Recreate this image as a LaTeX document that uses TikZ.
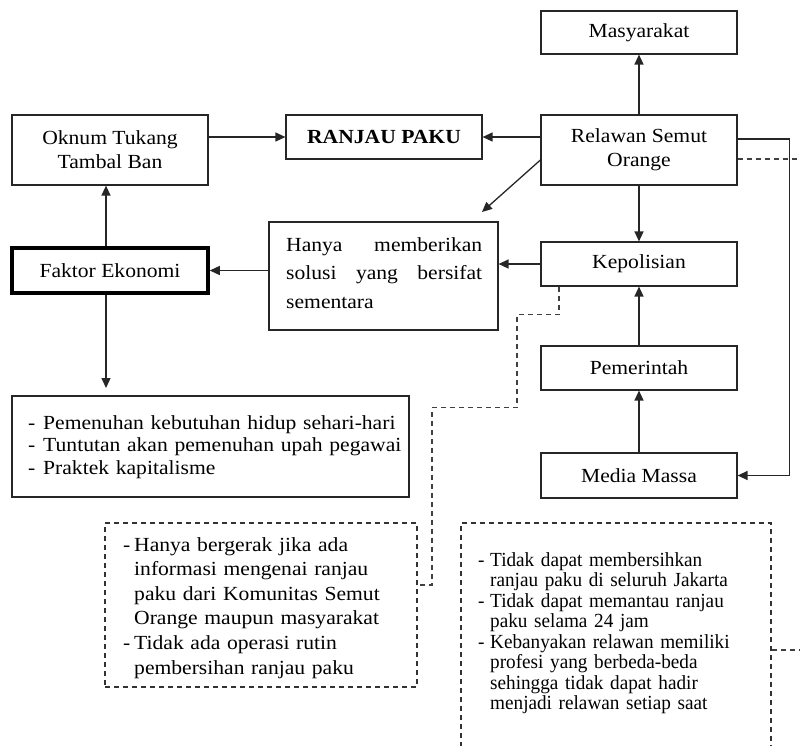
\documentclass[tikz,border=0pt]{standalone}
\usepackage{fontspec}
\setmainfont{Liberation Serif}[FakeStretch=1.08]
\newfontfamily\narrowserif{Liberation Serif}[FakeStretch=0.96]
\usetikzlibrary{arrows.meta}
\newcommand\litem[2]{\noindent\hangindent=#1\hangafter=1\makebox[#1][l]{-}#2\par}
\begin{document}
\begin{tikzpicture}[x=1pt,y=-1pt,
  box/.style={draw=black!85, line width=1.2pt, minimum width=196pt, inner sep=0pt, align=center, font=\fontsize{20}{24}\selectfont},
  txt/.style={inner sep=0pt, anchor=base west, font=\fontsize{20}{24}\selectfont},
  arr/.style={draw=black!85, line width=1.3pt, -{Triangle[length=10pt,width=9pt]}},
  dbox/.style={draw=black!80, line width=1.2pt, dash pattern=on 5pt off 4pt, inner sep=0pt},
  dline/.style={draw=black!75, line width=1.2pt, dash pattern=on 5pt off 4pt}]
\useasboundingbox (0,0) rectangle (800,745);
\clip (0,0) rectangle (800,745);
% boxes
\node[box, minimum height=43pt] (mas) at (639,32.5) {Masyarakat};
\node[box, minimum height=70pt] (rel) at (639,150) {Relawan Semut\\Orange};
\node[box, minimum height=44pt] (kep) at (639,264) {Kepolisian};
\node[box, minimum height=44pt] (pem) at (639,368) {Pemerintah};
\node[box, minimum height=45pt] (med) at (639,475.5) {Media Massa};
\node[box, minimum height=44pt] (ran) at (384,137) {\textbf{RANJAU PAKU}};
\node[box, minimum height=70pt] (okn) at (110,150) {Oknum Tukang\\Tambal Ban};
\node[box, draw=black, line width=3.5pt, minimum height=45pt] (fak) at (110,270.5) {Faktor Ekonomi};
\node[box, minimum width=229pt, minimum height=108pt] (han) at (383.5,276) {};
\node[txt, text width=196pt, font=\fontsize{20}{28.5}\selectfont] (hant) at (286,251)
  {Hanya \hfill memberikan\\ solusi \hfill yang \hfill bersifat\\ sementara};
\node[box, minimum width=397pt, minimum height=101pt] (lst) at (210.5,446.5) {};
\node[txt, text width=375pt, font=\fontsize{20}{22.5}\selectfont] (lstt) at (28,429)
  {\litem{15pt}{Pemenuhan kebutuhan hidup sehari-hari}\litem{15pt}{Tuntutan akan pemenuhan upah pegawai}\litem{15pt}{Praktek kapitalisme}};
\node[dbox, minimum width=312pt, minimum height=164pt] (d1) at (261,605) {};
\node[txt, text width=290pt, font=\fontsize{20}{24.6}\selectfont] (d1t) at (123,551)
  {\litem{11pt}{Hanya bergerak jika ada\newline informasi mengenai ranjau\newline paku dari Komunitas Semut\newline Orange maupun masyarakat}\litem{11pt}{Tidak ada operasi rutin\newline pembersihan ranjau paku}};
\node[dbox, minimum width=310pt, minimum height=250pt] (d2) at (616,648) {};
\node[txt, text width=280pt, font=\narrowserif\fontsize{20}{20.5}\selectfont] (d2t) at (478,566)
  {\litem{12pt}{Tidak dapat membersihkan\newline ranjau paku di seluruh Jakarta}\litem{12pt}{Tidak dapat memantau ranjau\newline paku selama 24 jam}\litem{12pt}{Kebanyakan relawan memiliki\newline profesi yang berbeda-beda\newline sehingga tidak dapat hadir\newline menjadi relawan setiap saat}};
% coordinates for free ends
\coordinate (hantip) at (482,212);
\coordinate (lsttip) at (106,388);
% connectors
\draw[arr] (rel) -- (mas);
\draw[arr] (rel.west |- ran.east) -- (ran.east);
\draw[arr] (okn.east |- ran.west) -- (ran.west);
\draw[arr] ([yshift=-10pt]rel.west) -- (hantip);
\draw[arr] (rel) -- (kep);
\draw[arr] (kep.west) -- (kep.west -| han.east);
\draw[arr] (han.west |- fak.east) -- (fak.east);
\draw[arr] ([xshift=-4pt]fak.north) -- ([xshift=-4pt]okn.south);
\draw[arr] ([xshift=-4pt]fak.south) -- (lsttip);
\draw[arr] (pem) -- (kep);
\draw[arr] (med) -- (pem);
\draw[arr] ([yshift=11pt]rel.east) -| ([xshift=52pt]med.east) -- (med.east);
\draw[dline] ([yshift=-9pt]rel.east) -- ++(80,0);
\draw[dline] ([xshift=-80pt]kep.south) -- ++(0,28) -- ++(-42,0) -- ++(0,93) -- ++(-85,0) |- ([yshift=20pt]d1.east);
\draw[dline] ([yshift=-2pt]d2.east) -- ++(50,0);
\end{tikzpicture}
\end{document}
